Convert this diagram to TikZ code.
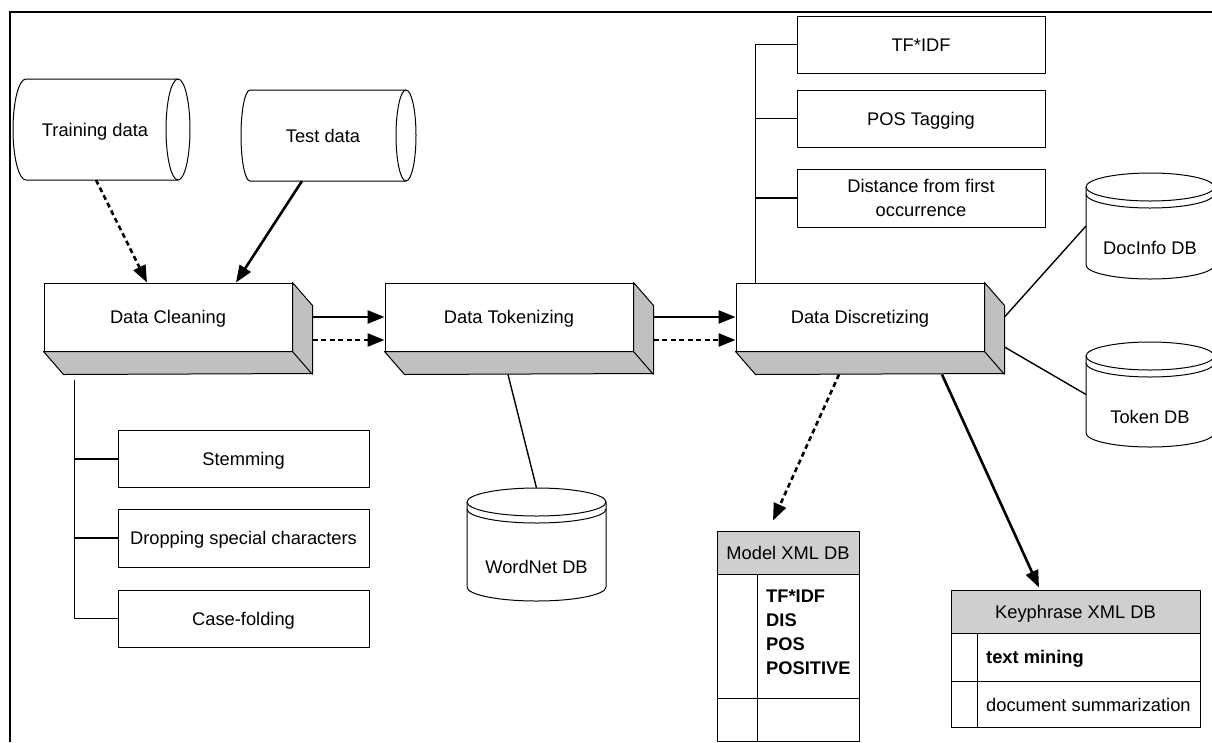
\documentclass[tikz,border=0pt]{standalone}
\usepackage{fontspec}
\setmainfont{Liberation Sans}
\usetikzlibrary{arrows.meta}

\definecolor{sidegray}{HTML}{C0C0C0}
\definecolor{headgray}{HTML}{CFCFCF}
\newcommand{\diagfont}{\fontsize{18.3}{24}\selectfont}

% Database drum: centre x, top y, bottom y, x radius
\newcommand{\drum}[4]{%
  \filldraw[outline, fill=white] (#1-#4,#2+14) -- (#1-#4,#3-14)
    arc[start angle=180, end angle=360, x radius=#4pt, y radius=14pt]
    -- (#1+#4,#2+14)
    arc[start angle=0, end angle=180, x radius=#4pt, y radius=14pt] -- cycle;
  \draw[outline] (#1-#4,#2+14) arc[start angle=180, end angle=360, x radius=#4pt, y radius=14pt];
  \draw[outline] (#1-#4,#2+21) arc[start angle=180, end angle=360, x radius=#4pt, y radius=14pt];
}

\tikzset{
  outline/.style={draw=black, line width=1pt, line join=round},
  lbl/.style={inner sep=0pt, font=\diagfont, text height=13pt, text depth=0pt},
  flatbox/.style={outline, fill=white, inner sep=0pt, font=\diagfont, align=center},
  oneline/.style={text height=13pt, text depth=0pt},
  stagebox/.style={flatbox, oneline, minimum width=248pt, minimum height=68pt},
  sideface/.style={outline, fill=sidegray},
  headcell/.style={outline, fill=headgray, inner sep=0pt, font=\diagfont, oneline, minimum height=43pt},
  hole/.style={inner sep=0pt, outer sep=0pt},
  flow/.style={line width=2.6pt, -{Triangle[length=17pt, width=13pt]}},
  flowdash/.style={flow, dash pattern=on 5pt off 3.5pt},
  link/.style={line width=1.4pt},
  frameline/.style={line width=2.5pt},
}

\begin{document}
\begin{tikzpicture}[x=1pt, y=-1pt]
\useasboundingbox (0,0) rectangle (1212,742);
\clip (0,0) rectangle (1212,742);

% outer frame
\draw[frameline] (10,742) -- (10,12) -- (1212,12);

% ---- input data cylinders (lying on their side)
\filldraw[outline, fill=white] (26,79) -- (178,79)
  arc[start angle=90, end angle=-90, x radius=12pt, y radius=50.5pt]
  -- (26,180) arc[start angle=270, end angle=90, x radius=13pt, y radius=50.5pt] -- cycle;
\draw[outline] (178,79) arc[start angle=90, end angle=270, x radius=12pt, y radius=50.5pt];
\node[lbl] (train) at (95,129.5) {Training data};
\coordinate (trainfoot) at (96,180);

\filldraw[outline, fill=white] (250,90) -- (406,90)
  arc[start angle=90, end angle=-90, x radius=10pt, y radius=45.5pt]
  -- (250,181) arc[start angle=270, end angle=90, x radius=9pt, y radius=45.5pt] -- cycle;
\draw[outline] (406,90) arc[start angle=90, end angle=270, x radius=10pt, y radius=45.5pt];
\node[lbl] (test) at (323,135.5) {Test data};
\coordinate (testfoot) at (302,181);

% ---- processing stages
\node[stagebox] (clean) at (168,317) {Data Cleaning};
\node[stagebox] (tok)   at (509,317) {Data Tokenizing};
\node[stagebox] (disc)  at (860,317) {Data Discretizing};
\foreach \n in {clean,tok,disc} {
  \filldraw[sideface] (\n.north east) -- ++(20,23) -- ++(0,68)
    -- ([xshift=20pt,yshift=-23pt]\n.south west) -- (\n.south west)
    -- (\n.south east) -- cycle;
  \draw[outline] (\n.south east) -- ++(20,23);
}

% ---- cleaning sub-steps
\node[flatbox, oneline, minimum width=251pt, minimum height=57pt] (stem) at (243.5,459) {Stemming};
\node[flatbox, oneline, minimum width=251pt, minimum height=58pt] (drop) at (243.5,538) {Dropping special characters};
\node[flatbox, oneline, minimum width=251pt, minimum height=57pt] (case) at (243.5,618.5) {Case-folding};
\coordinate (cleanstem) at ([xshift=31pt,yshift=-28pt]clean.south west);
\draw[link] (cleanstem) |- (stem.west);
\draw[link] (cleanstem) |- (drop.west);
\draw[link] (cleanstem) |- (case.west);

% ---- discretizing features
\node[flatbox, oneline, minimum width=248pt, minimum height=57pt] (tfidf) at (921,44.5) {TF*IDF};
\node[flatbox, oneline, minimum width=248pt, minimum height=57pt] (pos) at (921,118.5) {POS Tagging};
\node[flatbox, minimum width=248pt, minimum height=58pt] (dist) at (921,198) {Distance from first\\occurrence};
\draw[link] ([xshift=20pt]disc.north west) |- (tfidf.west);
\draw[link] ([xshift=20pt]disc.north west) |- (pos.west);
\draw[link] ([xshift=20pt]disc.north west) |- (dist.west);

% ---- databases
\drum{536.5}{488}{601}{69.5}
\node[hole, minimum width=139pt, minimum height=113pt] (wordnet) at (536.5,544.5) {};
\node[lbl] (wordnetlbl) at (536.5,566.5) {WordNet DB};

\drum{1150}{173}{279}{64}
\node[hole, minimum width=128pt, minimum height=106pt] (docinfo) at (1150,226) {};
\node[lbl] (docinfolbl) at (1150,248) {DocInfo DB};

\drum{1150}{342}{447}{64}
\node[hole, minimum width=128pt, minimum height=105pt] (tokendb) at (1150,394.5) {};
\node[lbl] (tokendblbl) at (1150,417) {Token DB};

% ---- XML stores
\node[headcell, minimum width=142pt] (modelhead) at (788,552.5) {Model XML DB};
\draw[outline] (717,574) rectangle (859,741);
\draw[outline] (717,698) -- (859,698);
\draw[outline] (757,574) -- (757,741);
\node[lbl, anchor=west, font=\diagfont\bfseries] (mtf)  at (766,596) {TF*IDF};
\node[lbl, anchor=west, font=\diagfont\bfseries] (mdis) at (766,620) {DIS};
\node[lbl, anchor=west, font=\diagfont\bfseries] (mpos) at (766,644) {POS};
\node[lbl, anchor=west, font=\diagfont\bfseries] (mpsv) at (766,668) {POSITIVE};

\node[headcell, minimum width=249pt] (keyhead) at (1075.5,611.5) {Keyphrase XML DB};
\draw[outline] (951,633) rectangle (1200,727);
\draw[outline] (951,681) -- (1200,681);
\draw[outline] (977,633) -- (977,727);
\node[lbl, anchor=west, font=\diagfont\bfseries] (ktm) at (986,657) {text mining};
\node[lbl, anchor=west] (kds) at (986,705) {document summarization};

% ---- flows
\draw[flowdash] (trainfoot) -- ([xshift=-21pt]clean.north);
\draw[flow] (testfoot) -- ([xshift=68pt]clean.north);

\draw[flow] ([xshift=20pt]clean.east) -- (tok.west);
\draw[flowdash] ([xshift=20pt,yshift=-23pt]clean.east) -- ([yshift=-23pt]tok.west);
\draw[flow] ([xshift=20pt]tok.east) -- (disc.west);
\draw[flowdash] ([xshift=20pt,yshift=-23pt]tok.east) -- ([yshift=-23pt]disc.west);

\draw[link] ([xshift=-1pt,yshift=-23pt]tok.south) -- (wordnet.north);
\draw[link] ([xshift=20pt]disc.east) -- (docinfo.west);
\draw[link] ([xshift=20pt,yshift=-30pt]disc.east) -- (tokendb.west);

\draw[flowdash] ([xshift=-21pt,yshift=-23pt]disc.south) -- ([xshift=-15pt,yshift=10pt]modelhead.north);
\draw[flow] ([xshift=82pt,yshift=-23pt]disc.south) -- ([xshift=-36.5pt,yshift=2pt]keyhead.north);
\end{tikzpicture}
\end{document}
